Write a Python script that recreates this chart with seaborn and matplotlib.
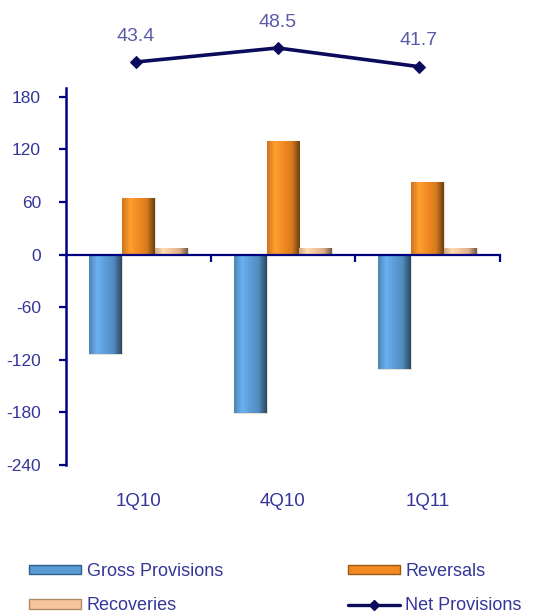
import numpy as np
import pandas as pd
import matplotlib
matplotlib.use("Agg")
import matplotlib.pyplot as plt
import matplotlib.transforms as mtransforms
from matplotlib.colors import LinearSegmentedColormap, to_rgb
from matplotlib.patches import Patch
from matplotlib.lines import Line2D
import seaborn as sns

# Quarterly provision flows
quarters = ["1Q10", "4Q10", "1Q11"]
gross_provisions = [-113, -181, -130]
reversals = [65, 129, 83]
recoveries = [8, 8, 8]
net_provisions = [43.4, 48.5, 41.7]
y_ticks = [-240, -180, -120, -60, 0, 60, 120, 180]

series_names = ["Gross Provisions", "Reversals", "Recoveries"]
colors = {"Gross Provisions": "#5b9bd5",
          "Reversals": "#f28a22",
          "Recoveries": "#f6c49a"}
text_color = "#35359a"
label_color = "#5a5aaa"
axis_color = "#000080"
line_color = "#0b0b5c"

df = pd.DataFrame({
    "quarter": quarters * 3,
    "series": [s for s in series_names for _ in quarters],
    "value": gross_provisions + reversals + recoveries,
})

sns.set_theme(style="white")
plt.rcParams["font.family"] = ["Liberation Sans", "DejaVu Sans"]

fig = plt.figure(figsize=(5.35, 6.15), dpi=100)
ax = fig.add_axes([66 / 535, 1 - 465 / 615, 434 / 535, 377 / 615])

sns.barplot(data=df, x="quarter", y="value", hue="series", order=quarters,
            hue_order=series_names, palette=colors, width=0.68, gap=0,
            legend=False, ax=ax, saturation=1)

ax.set_xlim(-0.5, 2.5)
ax.set_ylim(-240, 190)


def shade(c):
    r = np.array(to_rgb(c))
    dark = r * 0.45
    light = np.clip(r * 1.08 + 0.04, 0, 1)
    return LinearSegmentedColormap.from_list(
        "bevel", [r * 0.85, light, r, r * 0.9, dark], N=256)


# cylinder-like horizontal shading on each bar
grad = np.linspace(0, 1, 256).reshape(1, -1)
for patch in list(ax.patches):
    bb = patch.get_bbox()
    if bb.width == 0 or bb.height == 0:
        continue
    fc = patch.get_facecolor()
    im = ax.imshow(grad, extent=[bb.x0, bb.x1, bb.y0, bb.y1], aspect="auto",
                   cmap=shade(fc[:3]), zorder=patch.get_zorder() + 0.1,
                   interpolation="bilinear")
    im.set_clip_path(patch)
    patch.set_edgecolor("#e8e0d8")
    patch.set_linewidth(0.8)

ax.set_xlim(-0.5, 2.5)
ax.set_ylim(-240, 190)
ax.set_aspect("auto")

for s in ["top", "right"]:
    ax.spines[s].set_visible(False)
ax.spines["left"].set_color(axis_color)
ax.spines["left"].set_linewidth(1.8)
ax.spines["bottom"].set_position(("data", 0))
ax.spines["bottom"].set_color(axis_color)
ax.spines["bottom"].set_linewidth(1.6)

ax.set_yticks(y_ticks)
ax.set_yticklabels([str(v) for v in y_ticks])
ax.tick_params(axis="y", direction="out", length=5, width=1.6,
               color=axis_color, labelcolor=text_color, labelsize=12.5, pad=13,
               left=True)
ax.set_xticks([0.5, 1.5, 2.5])
ax.set_xticklabels([])
ax.tick_params(axis="x", direction="out", length=5, width=1.6,
               color=axis_color, bottom=True)
ax.set_xlabel("")
ax.set_ylabel("")
ax.grid(False)

trans = mtransforms.blended_transform_factory(ax.transData, ax.transAxes)
for i, q in enumerate(quarters):
    ax.text(i, -0.097, q, transform=trans, ha="center", va="center",
            fontsize=13.5, color=text_color)

# Net provisions line in its own band above the bars
ax2 = fig.add_axes([66 / 535, 1 - 80 / 615, 434 / 535, 60 / 615])
sns.lineplot(x=[0, 1, 2], y=net_provisions, ax=ax2, color=line_color,
             linewidth=2.6, marker="D", markersize=6,
             markeredgecolor=line_color)
ax2.set_xlim(-0.495, 2.572)
ax2.set_ylim(36.85, 58.67)
ax2.axis("off")
for i, v in enumerate(net_provisions):
    ax2.annotate(f"{v}", (i, v), xytext=(0, 18.5), textcoords="offset points",
                 ha="center", va="center", fontsize=14, color=label_color,
                 annotation_clip=False)

handles = [
    Patch(facecolor=colors["Gross Provisions"], edgecolor="#2f5f8f"),
    Patch(facecolor=colors["Recoveries"], edgecolor="#b08a6a"),
    Patch(facecolor=colors["Reversals"], edgecolor="#9a5a15"),
    Line2D([], [], color=line_color, linewidth=2.4, marker="D", markersize=5),
]
labels = ["Gross Provisions", "Recoveries", "Reversals", "Net Provisions"]
fig.legend(handles, labels, ncol=2, loc="upper left",
           bbox_to_anchor=(29 / 535, 1 - 563 / 615), frameon=False,
           fontsize=13, labelcolor=text_color, handlelength=2.9,
           handleheight=0.45, handletextpad=0.3, columnspacing=6.9,
           labelspacing=0.95, borderpad=0, borderaxespad=0)

fig.savefig("out.png", dpi=100)
